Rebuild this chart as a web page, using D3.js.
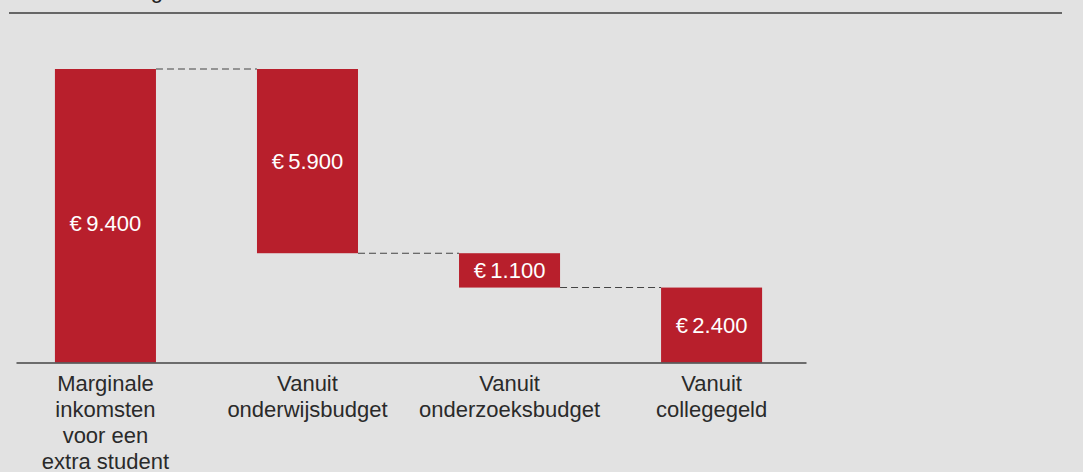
<!DOCTYPE html>
<html>
<head>
<meta charset="utf-8">
<script src="https://cdn.jsdelivr.net/npm/d3@7"></script>
<style>
  html, body { margin: 0; padding: 0; background: #e2e2e2; }
  svg { display: block; font-family: "Liberation Sans", Arial, sans-serif; }
</style>
</head>
<body>
<svg id="chart"></svg>
<script>
const categories = [
  "Marginale\ninkomsten\nvoor een\nextra student",
  "Vanuit\nonderwijsbudget",
  "Vanuit\nonderzoeksbudget",
  "Vanuit\ncollegegeld"
];

// first bar is the total, the rest are parts of it (waterfall going down)
const values = [9400, 5900, 1100, 2400];

const valueLabels = ["€\u20099.400", "€\u20095.900", "€\u20091.100", "€\u20092.400"];

const width = 1083;
const height = 472;
const red = "#b81f2c";

const svg = d3.select("#chart")
  .attr("width", width)
  .attr("height", height);

svg.append("rect")
  .attr("width", width)
  .attr("height", height)
  .attr("fill", "#e2e2e2");

// title, mostly above the visible area
svg.append("text")
  .attr("x", 163)
  .attr("y", -2)
  .attr("text-anchor", "end")
  .attr("font-size", 22)
  .attr("fill", "#222")
  .text("Verdeling");

svg.append("line")
  .attr("x1", 9)
  .attr("x2", 1062)
  .attr("y1", 13)
  .attr("y2", 13)
  .attr("stroke", "#666")
  .attr("stroke-width", 2);

// waterfall start/end levels
let level = 0;
const bars = values.map((v, i) => {
  if (i === 0) {
    level = v;
    return { cat: categories[i], label: valueLabels[i], from: 0, to: v };
  }
  const b = { cat: categories[i], label: valueLabels[i], from: level - v, to: level };
  level -= v;
  return b;
});

const x = d3.scaleBand()
  .domain(categories)
  .range([16, 806])
  .paddingInner(0.5)
  .paddingOuter(0.205)
  .align(0.47);

const y = d3.scaleLinear()
  .domain([0, 9400])
  .range([362.5, 69]);

// dashed connectors
const links = bars.slice(0, -1).map((b, i) => ({
  x1: x(b.cat) + x.bandwidth(),
  x2: x(bars[i + 1].cat),
  v: i === 0 ? b.to : b.from
}));

svg.append("g")
  .selectAll("line")
  .data(links)
  .enter()
  .append("line")
  .attr("x1", d => d.x1)
  .attr("x2", d => d.x2)
  .attr("y1", d => y(d.v))
  .attr("y2", d => y(d.v))
  .attr("stroke", "#444")
  .attr("stroke-width", 1.1)
  .attr("stroke-dasharray", "7,4");

svg.append("g")
  .selectAll("rect")
  .data(bars)
  .enter()
  .append("rect")
  .attr("x", d => x(d.cat))
  .attr("width", x.bandwidth())
  .attr("y", d => y(d.to))
  .attr("height", d => y(d.from) - y(d.to))
  .attr("fill", red);

svg.append("g")
  .selectAll("text")
  .data(bars)
  .enter()
  .append("text")
  .attr("x", d => x(d.cat) + x.bandwidth() / 2)
  .attr("y", (d, i) => (y(d.from) + y(d.to)) / 2 + (i === 0 ? 7 : 0))
  .attr("dy", "0.36em")
  .attr("text-anchor", "middle")
  .attr("font-size", 22)
  .attr("fill", "#fff")
  .text(d => d.label);

// x axis with multi-line labels
const axis = svg.append("g")
  .attr("transform", `translate(0,${y(0)})`)
  .call(d3.axisBottom(x).tickSize(0).tickSizeOuter(0).tickPadding(0));

axis.select(".domain")
  .attr("stroke", "#444")
  .attr("stroke-width", 1.6);

axis.selectAll(".tick text")
  .attr("font-size", 22)
  .attr("font-family", "Liberation Sans, Arial, sans-serif")
  .attr("fill", "#2a2a2a")
  .attr("y", 0)
  .attr("dy", null)
  .text(null)
  .each(function (d) {
    const lines = d.split("\n");
    d3.select(this)
      .selectAll("tspan")
      .data(lines)
      .enter()
      .append("tspan")
      .attr("x", 0)
      .attr("y", (_, i) => 28.5 + i * 26)
      .text(l => l);
  });
</script>
</body>
</html>
